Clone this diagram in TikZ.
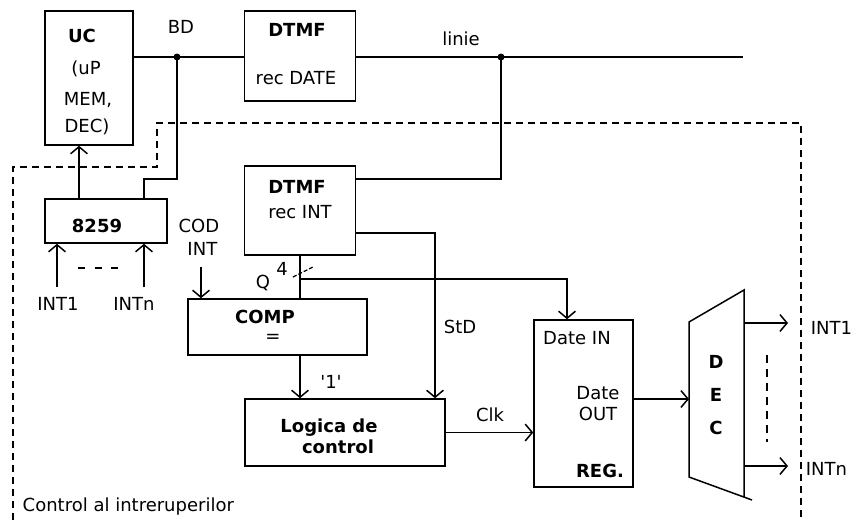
\documentclass[tikz,border=0pt]{standalone}
\usepackage{fontspec}
\setmainfont{DejaVu Sans}
\usetikzlibrary{arrows.meta}

\begin{document}
\begin{tikzpicture}[x=1pt,y=1pt,yscale=-1,xscale=1,
  line width=1.5pt,
  >={Straight Barb[angle=100:11pt]},
  blk/.style={draw, rectangle, inner sep=0pt},
  txt/.style={inner sep=0pt, anchor=base, font=\fontsize{18}{21}\selectfont},
  btxt/.style={txt, font=\fontsize{18}{21}\selectfont\bfseries},
  frame/.style={dash pattern=on 7pt off 5pt}]
\useasboundingbox (0,0) rectangle (855,520);

%Shape: Boxes
\node[blk, minimum width=88, minimum height=134] (uc) at (89,78) {};
\node[blk, minimum width=111, minimum height=90] (dtmfd) at (300,56) {};
\node[blk, minimum width=111, minimum height=89] (dtmfi) at (300,210.5) {};
\node[blk, minimum width=122, minimum height=44] (pic) at (106,221) {};
\node[blk, minimum width=179, minimum height=56] (comp) at (277.5,327) {};
\node[blk, minimum width=200, minimum height=67] (logic) at (345,432.5) {};
\node[blk, minimum width=99, minimum height=167] (reg) at (583.5,403.5) {};
%Shape: Decoder
\draw (752,500) -- (689,477) -- (689,322) -- (744,290) -- (744,497);

%Free ends
\coordinate (bd) at (177,57);
\coordinate (ln) at (501,57);
\coordinate (lend) at (743,57);
\coordinate (in1) at (57,287);
\coordinate (inn) at (144,287);
\coordinate (codin) at (201,267);
\coordinate (qb) at (300,279);
\coordinate (decin) at (689,399);
\coordinate (o1) at (744,323);
\coordinate (o1e) at (788,323);
\coordinate (on) at (744,466);
\coordinate (one) at (788,466);

%Lines: bus and line
\draw (bd -| uc.east) -- (bd) -- (bd -| dtmfd.west);
\draw (dtmfd.east |- ln) -- (ln) -- (lend);
\fill (bd) circle (3.5);
\fill (ln) circle (3.5);
\draw (bd) -- ++(0,122) -| ([xshift=38]pic.north);
\draw (ln) |- ([yshift=-31.5]dtmfi.east);
\draw[->] ([xshift=-27]pic.north) -- ([xshift=-27]pic.north |- uc.south);
\draw[->] (in1) -- (in1 |- pic.south);
\draw[->] (inn) -- (inn |- pic.south);
\draw[dash pattern=on 7pt off 9.5pt] (78,268) -- (118,268);
\draw[->] (codin) -- (codin |- comp.north);
%Lines: Q bus
\draw (dtmfi.south) -- (dtmfi.south |- comp.north);
\draw[->] (qb) -| ([xshift=-16.5]reg.north);
\draw[dash pattern=on 4pt off 2pt, line width=1.2pt] (293,277) -- (313,267);
\draw[->] ([yshift=22.5]dtmfi.east) -| ([xshift=90]logic.north);
\draw[->] (comp.south -| qb) -- (logic.north -| qb);
\draw[->] (logic.east) -- (logic.east -| reg.west);
\draw[->] ([yshift=-4.5]reg.east) -- (decin);
\draw[->] (o1) -- (o1e);
\draw[->] (on) -- (one);
\draw[dash pattern=on 8pt off 6pt] (767,355) -- (767,442);
%Dashed frame
\draw[frame] (13,520) -- (13,167) -- (157,167) -- (157,123) -- (801,123) -- (801,520);

% Text Node
\node[btxt] (tuc) at (82,42) {UC};
\node[txt] (tup) at (86,74) {(uP};
\node[txt] (tmem) at (88,105) {MEM,};
\node[txt] (tdec) at (87,132) {DEC)};
\node[txt] (tbd) at (181,33) {BD};
\node[btxt] (tdtmfd) at (297,36) {DTMF};
\node[txt] (trecd) at (296,84) {rec DATE};
\node[txt] (tlinie) at (461,45) {linie};
\node[btxt] (tdtmfi) at (297,193) {DTMF};
\node[txt] (treci) at (300,218) {rec INT};
\node[btxt] (tpic) at (97,232) {8259};
\node[txt, anchor=base east] (tcod) at (220,232) {COD};
\node[txt, anchor=base east] (tcint) at (218,255) {INT};
\node[txt] (tint1) at (58,310) {INT1};
\node[txt] (tintn) at (134,310) {INTn};
\node[txt] (tq) at (263,288) {Q};
\node[txt] (tfour) at (282,275) {4};
\node[btxt] (tcomp) at (265,323) {COMP};
\node[txt, anchor=center] (teq) at (273,338) {=};
\node[txt] (tone) at (331,388) {\textquotesingle 1\textquotesingle};
\node[txt] (tstd) at (460,333) {StD};
\node[btxt] (tlog) at (329,432) {Logica de};
\node[btxt] (tctl) at (338,453) {control};
\node[txt] (tclk) at (490,421) {Clk};
\node[txt] (tdin) at (577,344) {Date IN};
\node[txt] (tdate) at (598,399) {Date};
\node[txt] (tout) at (598,420) {OUT};
\node[btxt] (treg) at (600,477) {REG.};
\node[btxt] (td) at (716,368) {D};
\node[btxt] (te) at (716,401) {E};
\node[btxt] (tc) at (716,434) {C};
\node[txt, anchor=base west] (tout1) at (810,334) {INT1};
\node[txt, anchor=base west] (toutn) at (805,475) {INTn};
\node[txt, anchor=base west] (tctrl) at (22,511) {Control al intreruperilor};

\end{tikzpicture}
\end{document}
